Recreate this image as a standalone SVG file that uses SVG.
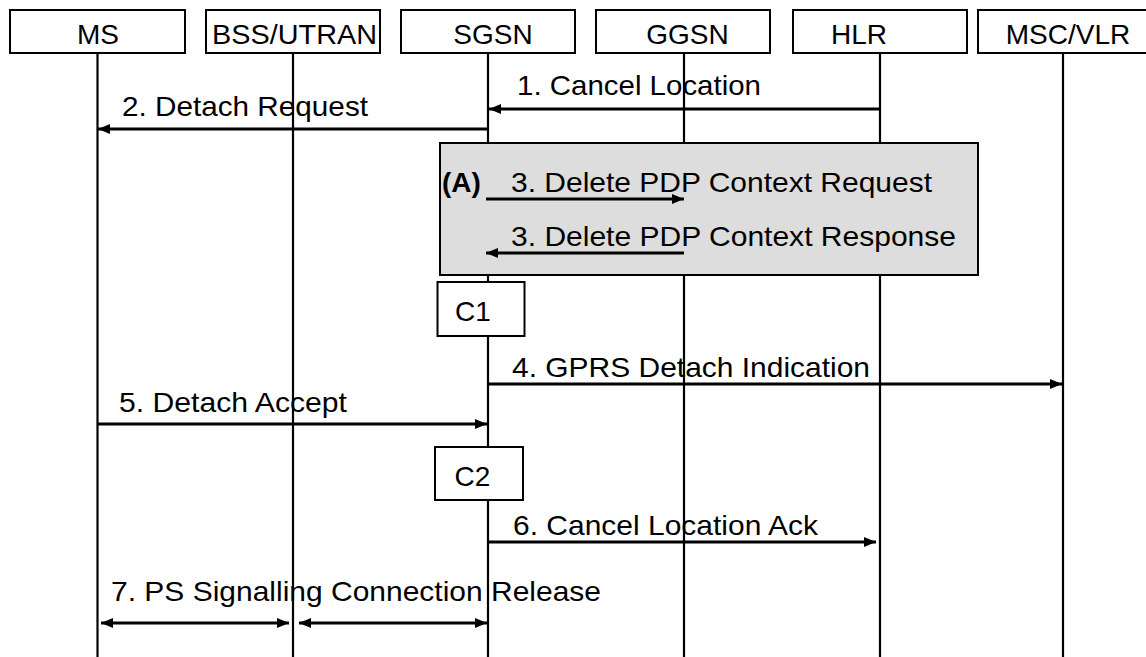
<svg xmlns="http://www.w3.org/2000/svg" width="1146" height="657" viewBox="0 0 1146 657">
<defs>
<style>
.box{fill:#ffffff;stroke:#000000;stroke-width:2}
.grp{fill:#dddddd;stroke:#000000;stroke-width:2}
.life{stroke:#000000;stroke-width:2.2;fill:none}
.msg{stroke:#000000;stroke-width:3;fill:none;marker-end:url(#ah)}
.both{stroke:#000000;stroke-width:3;fill:none;marker-end:url(#ah);marker-start:url(#ah)}
text{font-family:"Liberation Sans",Arial,sans-serif;font-size:28px;fill:#000000}
.hd{text-anchor:middle}
.bold{font-weight:bold}
</style>
<marker id="ah" markerUnits="userSpaceOnUse" markerWidth="13" markerHeight="11" refX="12" refY="5" orient="auto-start-reverse">
<path d="M0,0 L12,5 L0,10 z" fill="#000000"/>
</marker>
</defs>

<g id="lifelines">
<line class="life" x1="97.5" y1="53" x2="97.5" y2="657"/>
<line class="life" x1="293" y1="53" x2="293" y2="657"/>
<line class="life" x1="488" y1="53" x2="488" y2="657"/>
<line class="life" x1="684" y1="53" x2="684" y2="657"/>
<line class="life" x1="880" y1="53" x2="880" y2="657"/>
<line class="life" x1="1063" y1="53" x2="1063" y2="657"/>
</g>

<g id="node-MS"><rect class="box" x="10" y="10" width="175" height="43"/><text class="hd" x="98" y="44">MS</text></g>
<g id="node-BSS"><rect class="box" x="206" y="10" width="174" height="43"/><text class="hd" x="294.5" y="44" textLength="165" lengthAdjust="spacingAndGlyphs">BSS/UTRAN</text></g>
<g id="node-SGSN"><rect class="box" x="401" y="10" width="174" height="43"/><text class="hd" x="493" y="44">SGSN</text></g>
<g id="node-GGSN"><rect class="box" x="596" y="10" width="174" height="43"/><text class="hd" x="687.5" y="44">GGSN</text></g>
<g id="node-HLR"><rect class="box" x="793" y="10" width="174" height="43"/><text class="hd" x="859" y="44">HLR</text></g>
<g id="node-MSCVLR"><rect class="box" x="978" y="10" width="175" height="43"/><text class="hd" x="1068" y="44">MSC/VLR</text></g>

<g id="group-A">
<rect class="grp" x="440" y="143" width="538" height="132"/>
<text class="bold" x="442" y="192">(A)</text>
</g>

<g id="node-C1"><rect class="box" x="437.5" y="282" width="87" height="54"/><text class="hd" x="473" y="321">C1</text></g>
<g id="node-C2"><rect class="box" x="435" y="447" width="88" height="53"/><text class="hd" x="472.5" y="486">C2</text></g>

<g id="connectors">
<line class="msg" x1="880" y1="109" x2="489" y2="109"/>
<line class="msg" x1="488" y1="129" x2="98" y2="129"/>
<line class="msg" x1="486" y1="199" x2="684" y2="199"/>
<line class="msg" x1="684" y1="253" x2="486" y2="253"/>
<line class="msg" x1="488" y1="384" x2="1062" y2="384"/>
<line class="msg" x1="97.5" y1="424" x2="487" y2="424"/>
<line class="msg" x1="488" y1="542" x2="876" y2="542"/>
<line class="both" x1="101" y1="623" x2="289" y2="623"/>
<line class="both" x1="299" y1="623" x2="487" y2="623"/>
</g>

<g id="labels">
<text x="517" y="95" textLength="244" lengthAdjust="spacingAndGlyphs">1. Cancel Location</text>
<text x="122" y="116" textLength="246" lengthAdjust="spacingAndGlyphs">2. Detach Request</text>
<text x="511" y="192" textLength="421" lengthAdjust="spacingAndGlyphs">3. Delete PDP Context Request</text>
<text x="511" y="246" textLength="445" lengthAdjust="spacingAndGlyphs">3. Delete PDP Context Response</text>
<text x="512" y="377" textLength="358" lengthAdjust="spacingAndGlyphs">4. GPRS Detach Indication</text>
<text x="119" y="412" textLength="228" lengthAdjust="spacingAndGlyphs">5. Detach Accept</text>
<text x="513" y="535" textLength="305" lengthAdjust="spacingAndGlyphs">6. Cancel Location Ack</text>
<text x="111" y="601" textLength="490" lengthAdjust="spacingAndGlyphs">7. PS Signalling Connection Release</text>
</g>
</svg>
